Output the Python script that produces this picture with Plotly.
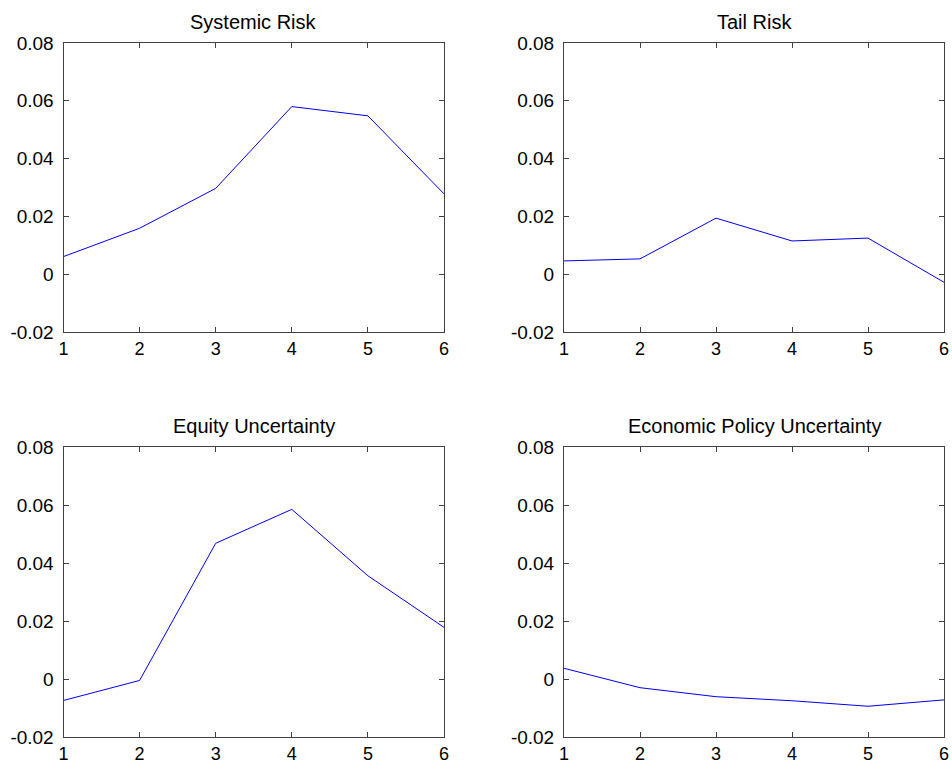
import plotly.graph_objects as go

horizons = [1, 2, 3, 4, 5, 6]
titles = ["Systemic Risk", "Tail Risk", "Equity Uncertainty", "Economic Policy Uncertainty"]
systemic_risk = [0.0061, 0.0159, 0.0297, 0.0580, 0.0548, 0.0278]
tail_risk = [0.0046, 0.0053, 0.0194, 0.0115, 0.0125, -0.0028]
equity_uncertainty = [-0.0074, -0.0005, 0.0468, 0.0585, 0.0356, 0.0178]
epu = [0.0037, -0.0030, -0.0061, -0.0075, -0.0094, -0.0072]
series = [systemic_risk, tail_risk, equity_uncertainty, epu]

y_tickvals = [-0.02, 0, 0.02, 0.04, 0.06, 0.08]
y_ticktext = ["-0.02", "0", "0.02", "0.04", "0.06", "0.08"]
x_tickvals = [1, 2, 3, 4, 5, 6]
x_ticktext = ["1", "2", "3", "4", "5", "6"]

W, H = 952, 765
xdoms = [[63.5 / W, 444 / W], [564 / W, 944 / W]]
ydoms = [[1 - 332 / H, 1 - 43 / H], [1 - 737 / H, 1 - 447 / H]]
title_y = [1 - 22 / H, 1 - 426 / H]

fig = go.Figure()
font = dict(family="Liberation Sans, Arial, sans-serif", color="black")

for i, (t, vals) in enumerate(zip(titles, series)):
    r, c = divmod(i, 2)
    n = "" if i == 0 else str(i + 1)
    fig.add_trace(go.Scatter(x=horizons, y=vals, mode="lines",
                             line=dict(color="#0000ee", width=1),
                             xaxis="x" + n, yaxis="y" + n, showlegend=False))
    axcommon = dict(showgrid=False, zeroline=False, showline=True, linecolor="#404040",
                    linewidth=1, mirror="ticks", ticks="inside", ticklen=5,
                    tickcolor="#404040", automargin=False)
    fig.layout["xaxis" + n] = dict(domain=xdoms[c], anchor="y" + n, range=[1, 6],
                                   tickvals=x_tickvals, ticktext=x_ticktext,
                                   ticklabelstandoff=0, tickfont=dict(size=18, **font),
                                   **axcommon)
    fig.layout["yaxis" + n] = dict(domain=ydoms[r], anchor="x" + n, range=[-0.02, 0.08],
                                   tickvals=y_tickvals, ticktext=y_ticktext,
                                   ticklabelstandoff=5, tickfont=dict(size=19, **font),
                                   **axcommon)
    fig.add_annotation(text=t, x=(xdoms[c][0] + xdoms[c][1]) / 2, y=title_y[r],
                       xref="paper", yref="paper", showarrow=False,
                       xanchor="center", yanchor="middle", font=dict(size=20, **font))

fig.update_layout(width=W, height=H, margin=dict(l=0, r=0, t=0, b=0),
                  paper_bgcolor="white", plot_bgcolor="white")
fig.write_html("out.html")
